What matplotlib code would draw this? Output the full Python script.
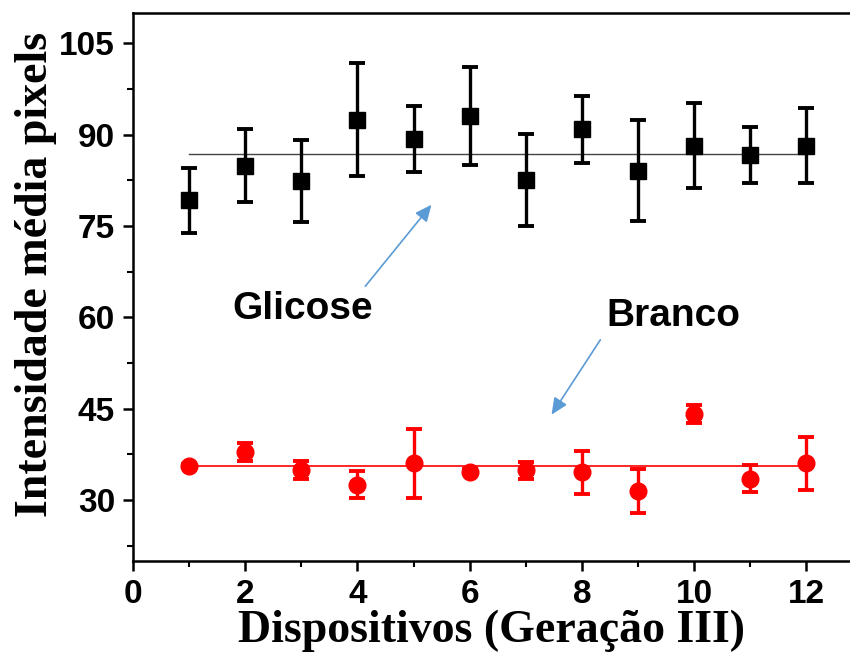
import numpy as np
import matplotlib
matplotlib.use('Agg')
import matplotlib.pyplot as plt
from matplotlib.ticker import MultipleLocator

# devices 1..12
dispositivos = [1, 2, 3, 4, 5, 6, 7, 8, 9, 10, 11, 12]

# Glicose (black squares)
glicose = [79.2, 84.9, 82.4, 92.5, 89.3, 93.1, 82.6, 90.9, 84.1, 88.2, 86.7, 88.2]
glicose_err = [5.4, 6.0, 6.8, 9.3, 5.5, 8.1, 7.6, 5.5, 8.3, 7.0, 4.6, 6.2]

# Branco (red circles)
branco = [35.6, 37.9, 34.9, 32.5, 36.0, 34.6, 34.9, 34.5, 31.5, 44.1, 33.5, 36.0]
branco_err = [0.3, 1.5, 1.5, 2.2, 5.7, 0.4, 1.4, 3.6, 3.6, 1.5, 2.2, 4.3]

fig = plt.figure(figsize=(8.5, 6.52), dpi=100)
ax = fig.add_axes([0.1565, 0.140, 0.8435, 0.840])

# mean lines
ax.plot([dispositivos[0], dispositivos[-1]], [np.mean(glicose)] * 2,
        color='#444444', lw=1.0, zorder=1)
ax.plot([dispositivos[0], dispositivos[-1]], [np.mean(branco)] * 2,
        color='red', lw=1.2, zorder=1)

ax.errorbar(dispositivos, glicose, yerr=glicose_err, fmt='s', color='black',
            ms=11, elinewidth=2.4, capsize=5.5, capthick=2.8, zorder=3)
ax.errorbar(dispositivos, branco, yerr=branco_err, fmt='o', color='red',
            ms=12, elinewidth=2.4, capsize=5.5, capthick=2.8, zorder=3)

# annotations
arrow_style = dict(arrowstyle='-|>,head_length=1.0,head_width=0.45',
                   color='#5B9BD5', lw=1.2, shrinkA=0, shrinkB=0)
ax.annotate('', xy=(5.32, 78.5), xytext=(4.14, 65.1), arrowprops=arrow_style)
ax.annotate('', xy=(7.46, 44.0), xytext=(8.33, 56.3), arrowprops=arrow_style)
ax.text(3.03, 59.8, 'Glicose', fontsize=28, fontweight='bold',
        family='Liberation Sans', ha='center', va='baseline')
ax.text(9.63, 58.5, 'Branco', fontsize=28, fontweight='bold',
        family='Liberation Sans', ha='center', va='baseline')

ax.set_xlim(0, 12.78)
ax.set_ylim(20, 110)
ax.xaxis.set_major_locator(MultipleLocator(2))
ax.xaxis.set_minor_locator(MultipleLocator(1))
ax.yaxis.set_major_locator(MultipleLocator(15))
ax.yaxis.set_minor_locator(MultipleLocator(7.5))
ax.tick_params(which='major', direction='out', length=7, width=1.8,
               labelsize=24, pad=6)
ax.tick_params(which='minor', direction='out', length=4, width=1.5)
for lab in ax.get_xticklabels() + ax.get_yticklabels():
    lab.set_fontweight('bold')
    lab.set_family('Liberation Sans')

ax.spines['right'].set_visible(False)
for s in ['left', 'bottom', 'top']:
    ax.spines[s].set_linewidth(1.8)

ax.set_xlabel('Dispositivos (Geração III)', fontsize=33, fontweight='bold',
              family='Liberation Serif', labelpad=0)
ax.set_ylabel('Intensidade média pixels', fontsize=33, fontweight='bold',
              family='Liberation Serif')
ax.yaxis.set_label_coords(-0.106, 0.522)

fig.savefig('out.png', dpi=100)
